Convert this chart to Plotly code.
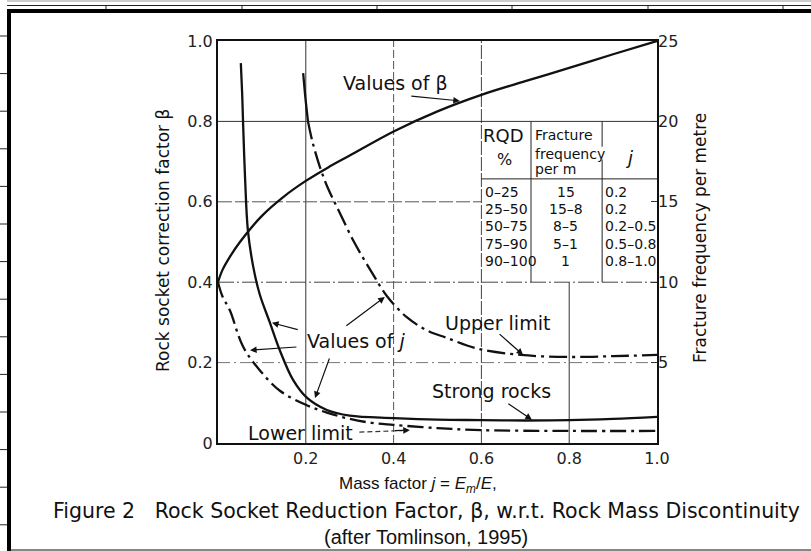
import plotly.graph_objects as go

# ---- curves (mass factor j on x, beta on y) ----
beta_j = [0, 0.01, 0.027, 0.05, 0.1, 0.15, 0.2, 0.25, 0.3, 0.4, 0.5, 0.6, 0.7, 0.8, 0.9, 1.0]
beta_vals = [0.40, 0.43, 0.463, 0.50, 0.565, 0.613, 0.652, 0.685, 0.715, 0.775, 0.825, 0.866, 0.90, 0.933, 0.967, 1.0]

strong_j = [0.052, 0.055, 0.057, 0.062, 0.068, 0.08, 0.095, 0.118, 0.141, 0.171, 0.203, 0.248,
            0.3, 0.4, 0.5, 0.6, 0.7, 0.8, 0.9, 1.0]
strong_vals = [0.945, 0.87, 0.80, 0.65, 0.53, 0.44, 0.37, 0.30, 0.23, 0.157, 0.112, 0.082,
               0.068, 0.062, 0.058, 0.057, 0.056, 0.057, 0.060, 0.065]

lower_j = [0, 0.01, 0.027, 0.057, 0.096, 0.141, 0.2, 0.25, 0.3, 0.35, 0.4, 0.5, 0.6, 0.8, 1.0]
lower_vals = [0.40, 0.365, 0.33, 0.24, 0.18, 0.13, 0.095, 0.075, 0.06, 0.05, 0.045, 0.037, 0.032, 0.030, 0.030]

upper_j = [0.194, 0.199, 0.205, 0.215, 0.232, 0.25, 0.271, 0.31, 0.35, 0.385, 0.43, 0.476,
           0.52, 0.59, 0.69, 0.8, 0.9, 1.0]
upper_vals = [0.92, 0.86, 0.80, 0.75, 0.687, 0.635, 0.587, 0.50, 0.425, 0.365, 0.313, 0.28,
              0.262, 0.235, 0.219, 0.214, 0.216, 0.219]
UPPER_SOLID_END = 3  # first points of the upper limit are drawn solid

# ---- axis ticks ----
x_ticks = [0.2, 0.4, 0.6, 0.8, 1.0]
x_ticktext = ["0.2", "0.4", "0.6", "0.8", "1.0"]
y_ticks = [0, 0.2, 0.4, 0.6, 0.8, 1.0]
y_ticktext = ["0", "0.2", "0.4", "0.6", "0.8", "1.0"]
freq_ticks = [5, 10, 15, 20, 25]
freq_ticktext = ["5", "10", "15", "20", "25"]

# ---- RQD table ----
rqd_rows = ["0\u201325", "25\u201350", "50\u201375", "75\u201390", "90\u2013100"]
freq_rows = ["15", "15\u20138", "8\u20135", "5\u20131", "1"]
j_rows = ["0.2", "0.2", "0.2\u20130.5", "0.5\u20130.8", "0.8\u20131.0"]

W, H = 811, 551
FONT = "DejaVu Sans, Verdana, sans-serif"
ARIAL = "Liberation Sans, Arial, sans-serif"
INK = "#111111"


def px_x(p):
    return p / W


def px_y(p):
    return (H - p) / H


fig = go.Figure()

line_style = dict(color=INK, width=2.3)
fig.add_trace(go.Scatter(x=beta_j, y=beta_vals, mode="lines", line=dict(**line_style, shape="spline")))
fig.add_trace(go.Scatter(x=strong_j, y=strong_vals, mode="lines", line=dict(**line_style, shape="spline")))
fig.add_trace(go.Scatter(x=lower_j, y=lower_vals, mode="lines",
                         line=dict(**line_style, shape="spline", dash="16px,5px,3px,5px")))
fig.add_trace(go.Scatter(x=upper_j[:UPPER_SOLID_END], y=upper_vals[:UPPER_SOLID_END], mode="lines",
                         line=dict(**line_style, shape="spline")))
fig.add_trace(go.Scatter(x=upper_j[UPPER_SOLID_END - 1:], y=upper_vals[UPPER_SOLID_END - 1:], mode="lines",
                         line=dict(**line_style, shape="spline", dash="18px,5px,3px,5px")))
# invisible trace carrying the fracture-frequency scale
fig.add_trace(go.Scatter(x=[0, 1], y=[0, 25], yaxis="y2", mode="lines",
                         line=dict(width=0), hoverinfo="skip"))

shapes = []


def seg(x0, y0, x1, y1, dash="solid", color="#444", width=1, layer="below"):
    shapes.append(dict(type="line", xref="x", yref="y", x0=x0, y0=y0, x1=x1, y1=y1,
                       line=dict(color=color, width=width, dash=dash), layer=layer))


# grid
seg(0.2, 0, 0.2, 1, color="#333")
seg(0.4, 0, 0.4, 1, dash="8px,3px", color="#555")
seg(0.6, 0, 0.6, 1, dash="14px,2px", color="#444")
seg(0.8, 0, 0.8, 0.4, color="#333")
seg(0, 0.8, 1, 0.8, color="#333")
seg(0, 0.6, 0.6, 0.6, dash="14px,3px", color="#555")
seg(0, 0.4, 1, 0.4, dash="16px,3px,2px,3px", color="#444")
seg(0, 0.2, 1, 0.2, dash="12px,4px,2px,4px", color="#777")

# table rules
seg(0.713, 0.4, 0.713, 0.8, color="#222")
seg(0.875, 0.4, 0.875, 0.705, color="#222")
seg(0.875, 0.737, 0.875, 0.8, color="#222")
seg(0.6, 0.657, 1.0, 0.657, color="#222")

# dashed leader for "Lower limit"
seg(0.322, 0.027, 0.42, 0.031, dash="5px,3px", color="#333", width=1.2, layer="above")


def prect(x0, y0, x1, y1, color):
    shapes.append(dict(type="rect", xref="paper", yref="paper",
                       x0=px_x(x0), x1=px_x(x1), y0=px_y(y1), y1=px_y(y0),
                       line=dict(width=0), fillcolor=color, layer="above"))


def pline(x0, y0, x1, y1, color, width):
    shapes.append(dict(type="line", xref="paper", yref="paper",
                       x0=px_x(x0), x1=px_x(x1), y0=px_y(y0), y1=px_y(y1),
                       line=dict(color=color, width=width), layer="above"))


# page frame around the figure
pline(7, 1, 811, 1, "#999", 1)
pline(7, 5.5, 811, 5.5, "#222", 1)
for tx in [106, 242, 377, 512, 648, 783]:
    pline(tx, 5.5, tx, 9, "#222", 1)
prect(7, 9, 811, 13, "#000")
prect(7, 9, 11, 551, "#000")
pline(7, 550, 811, 550, "#111", 1.2)
for k in range(14):
    ty = 36 + 37.6 * k
    pline(0, ty, 7, ty, "#222", 1)

fig.update_layout(shapes=shapes)

ann = []


def label(text, x, y, size=19, xanchor="center", **kw):
    ann.append(dict(text=text, x=x, y=y, xref="x", yref="y", showarrow=False,
                    xanchor=xanchor, yanchor="middle",
                    font=dict(family=FONT, size=size, color=INK), **kw))


def arrow(tail, head):
    ann.append(dict(text="", x=head[0], y=head[1], ax=tail[0], ay=tail[1],
                    xref="x", yref="y", axref="x", ayref="y", showarrow=True,
                    arrowhead=2, arrowsize=1.1, arrowwidth=1.2, arrowcolor=INK))


label("Values of \u03b2", 0.405, 0.896)
arrow((0.437, 0.863), (0.551, 0.851))

label("Values of <i>j</i>", 0.314, 0.254)
arrow((0.185, 0.281), (0.123, 0.299))
arrow((0.182, 0.239), (0.073, 0.231))
arrow((0.255, 0.214), (0.221, 0.112))
arrow((0.289, 0.289), (0.380, 0.363))

label("Upper limit", 0.636, 0.299)
arrow((0.638, 0.274), (0.695, 0.219))

label("Strong rocks", 0.622, 0.129)
arrow((0.658, 0.100), (0.715, 0.058))

label("Lower limit", 0.189, 0.025)
arrow((0.40, 0.0305), (0.437, 0.032))

# table header and rows
label("RQD", 0.651, 0.766, size=18)
label("%", 0.653, 0.706, size=16)
label("Fracture", 0.717, 0.766, size=14, xanchor="left")
label("frequency", 0.717, 0.719, size=14, xanchor="left")
label("per m", 0.717, 0.682, size=14, xanchor="left")
label("<i>j</i>", 0.937, 0.711, size=18)
row_y = [0.624, 0.582, 0.539, 0.496, 0.453]
for r, f, jv, yy in zip(rqd_rows, freq_rows, j_rows, row_y):
    label(r, 0.604, yy, size=14, xanchor="left")
    label(f, 0.792, yy, size=14)
    label(jv, 0.878, yy, size=14, xanchor="left")


def paper_text(text, x, y, size, angle=0, family=FONT):
    ann.append(dict(text=text, x=px_x(x), y=px_y(y), xref="paper", yref="paper",
                    showarrow=False, xanchor="center", yanchor="middle", textangle=angle,
                    font=dict(family=family, size=size, color=INK)))


paper_text("Rock socket correction factor \u03b2", 163, 241, 17, -90)
paper_text("Fracture frequency per metre", 700, 238, 17, -90)
paper_text("Mass factor <i>j</i> = <i>E<sub>m</sub></i>/<i>E</i>,", 418, 485, 17, family=ARIAL)
paper_text("Figure 2\u00a0\u00a0\u00a0Rock Socket Reduction Factor, \u03b2, w.r.t. Rock Mass Discontinuity",
           426, 511, 20.5)
paper_text("(after Tomlinson, 1995)", 426, 537, 20, family=ARIAL)

fig.update_layout(annotations=ann)

tick_font = dict(family=FONT, size=16, color="#222")
fig.update_layout(
    width=W, height=H,
    margin=dict(l=0, r=0, t=0, b=0),
    paper_bgcolor="white", plot_bgcolor="white",
    showlegend=False,
    font=dict(family=FONT, size=16, color="#222"),
    xaxis=dict(domain=[px_x(218), px_x(657)], range=[0, 1], tickvals=x_ticks, ticktext=x_ticktext,
               showgrid=False, zeroline=False, showline=True, mirror=True,
               linecolor=INK, linewidth=2, ticks="", tickfont=tick_font,
               automargin=False),
    yaxis=dict(domain=[px_y(443), px_y(41)], range=[0, 1], tickvals=y_ticks, ticktext=y_ticktext,
               showgrid=False, zeroline=False, showline=True, mirror=True,
               linecolor=INK, linewidth=2, ticks="", tickfont=tick_font,
               automargin=False),
    yaxis2=dict(overlaying="y", side="right", range=[0, 25], tickvals=freq_ticks,
                ticktext=freq_ticktext, showgrid=False, zeroline=False, showline=False,
                ticks="inside", ticklen=6, tickcolor="#333",
                tickfont=tick_font, automargin=False),
)

fig.write_html("out.html")
